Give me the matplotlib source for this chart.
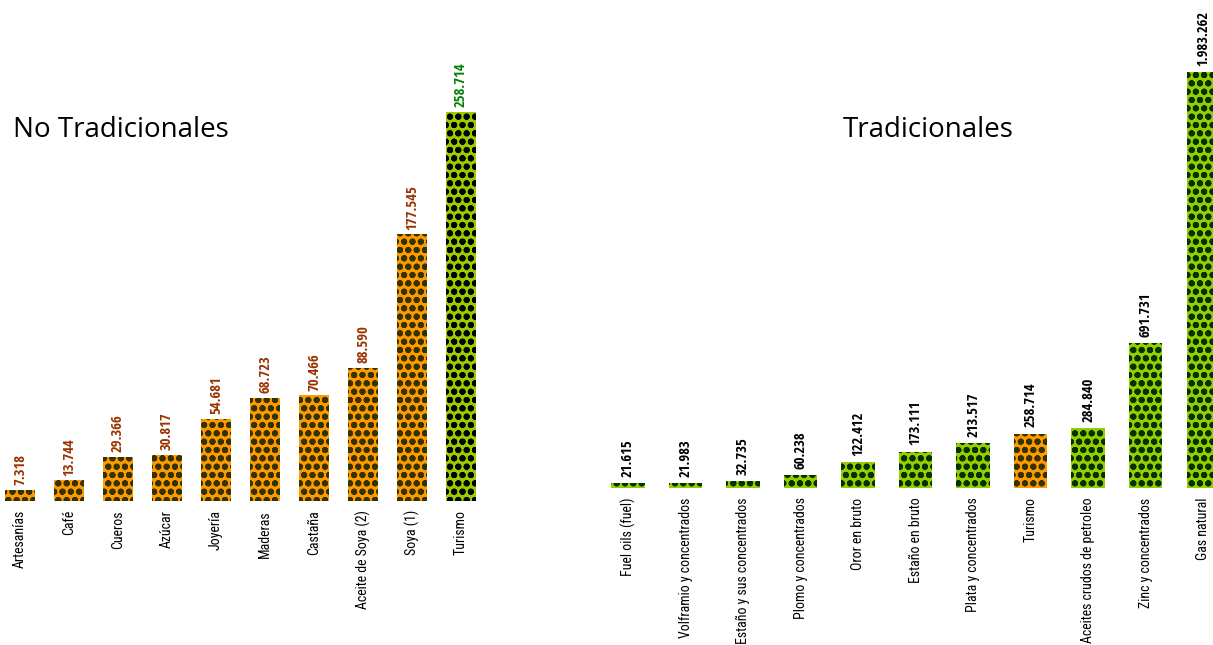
import matplotlib
matplotlib.use("Agg")
import matplotlib.pyplot as plt

# Data
nt_cats = ["Artesanías", "Café", "Cueros", "Azúcar", "Joyería", "Maderas", "Castaña",
           "Aceite de Soya (2)", "Soya (1)", "Turismo"]
nt_vals = [7.318, 13.744, 29.366, 30.817, 54.681, 68.723, 70.466, 88.590, 177.545, 258.714]
nt_labels = ["7.318", "13.744", "29.366", "30.817", "54.681", "68.723", "70.466",
             "88.590", "177.545", "258.714"]

t_cats = ["Fuel oils (fuel)", "Volframio y concentrados", "Estaño y sus concentrados",
          "Plomo y concentrados", "Oror en bruto", "Estaño en bruto", "Plata y concentrados",
          "Turismo", "Aceites crudos de petroleo", "Zinc y concentrados", "Gas natural"]
t_vals = [21.615, 21.983, 32.735, 60.238, 122.412, 173.111, 213.517, 258.714, 284.840,
          691.731, 1983.262]
t_labels = ["21.615", "21.983", "32.735", "60.238", "122.412", "173.111", "213.517",
            "258.714", "284.840", "691.731", "1.983.262"]

W, H = 1213, 645
plt.rcParams["hatch.linewidth"] = 2.0
fig = plt.figure(figsize=(W / 100, H / 100), dpi=100)

ORANGE = "#FF9900"
ORANGE_H = "#333300"
GREEN = "#99CC00"
GREEN_H = "#003300"

VAL = dict(family="Open Sans Condensed", fontweight="bold", fontsize=10.5)
CAT = dict(family="Roboto Condensed", fontsize=10)
HATCH = "oo"

# Left panel
axL = fig.add_axes([0 / W, (H - 501) / H, 485 / W, 501 / H])
axL.set_xlim(-0.41, 9.49)
axL.set_ylim(0, 258.714 * 501 / 389)
for i, (c, v, lab) in enumerate(zip(nt_cats, nt_vals, nt_labels)):
    is_tur = c == "Turismo"
    fc = GREEN if is_tur else ORANGE
    ec = "#000000" if is_tur else ORANGE_H
    axL.bar(i, v, width=0.62, color=fc, edgecolor=ec, linewidth=0, hatch=HATCH)
    axL.text(i, v + 3, lab, rotation=90, ha="center", va="bottom",
             color="#008000" if is_tur else "#993300", **VAL)
    axL.text(i, -6, c, rotation=90, ha="center", va="top", color="black", **CAT)
axL.axis("off")

# Right panel
axR = fig.add_axes([600 / W, (H - 488) / H, 613 / W, 488 / H])
axR.set_xlim(-0.487, 10.17)
axR.set_ylim(0, 1983.262 * 488 / 416)
for i, (c, v, lab) in enumerate(zip(t_cats, t_vals, t_labels)):
    is_tur = c == "Turismo"
    fc = ORANGE if is_tur else GREEN
    ec = ORANGE_H if is_tur else GREEN_H
    axR.bar(i, v, width=0.58, color=fc, edgecolor=ec, linewidth=0, hatch=HATCH)
    axR.text(i, v + 30, lab, rotation=90, ha="center", va="bottom", color="black",
             clip_on=False, **VAL)
    axR.text(i, -45, c, rotation=90, ha="center", va="top", color="black", **CAT)
axR.axis("off")

fig.text(13 / W, 1 - 130 / H, "No Tradicionales", fontsize=20, family="Open Sans",
         ha="left", va="center")
fig.text(843 / W, 1 - 130 / H, "Tradicionales", fontsize=20, family="Open Sans",
         ha="left", va="center")

fig.savefig("out.png", dpi=100)
